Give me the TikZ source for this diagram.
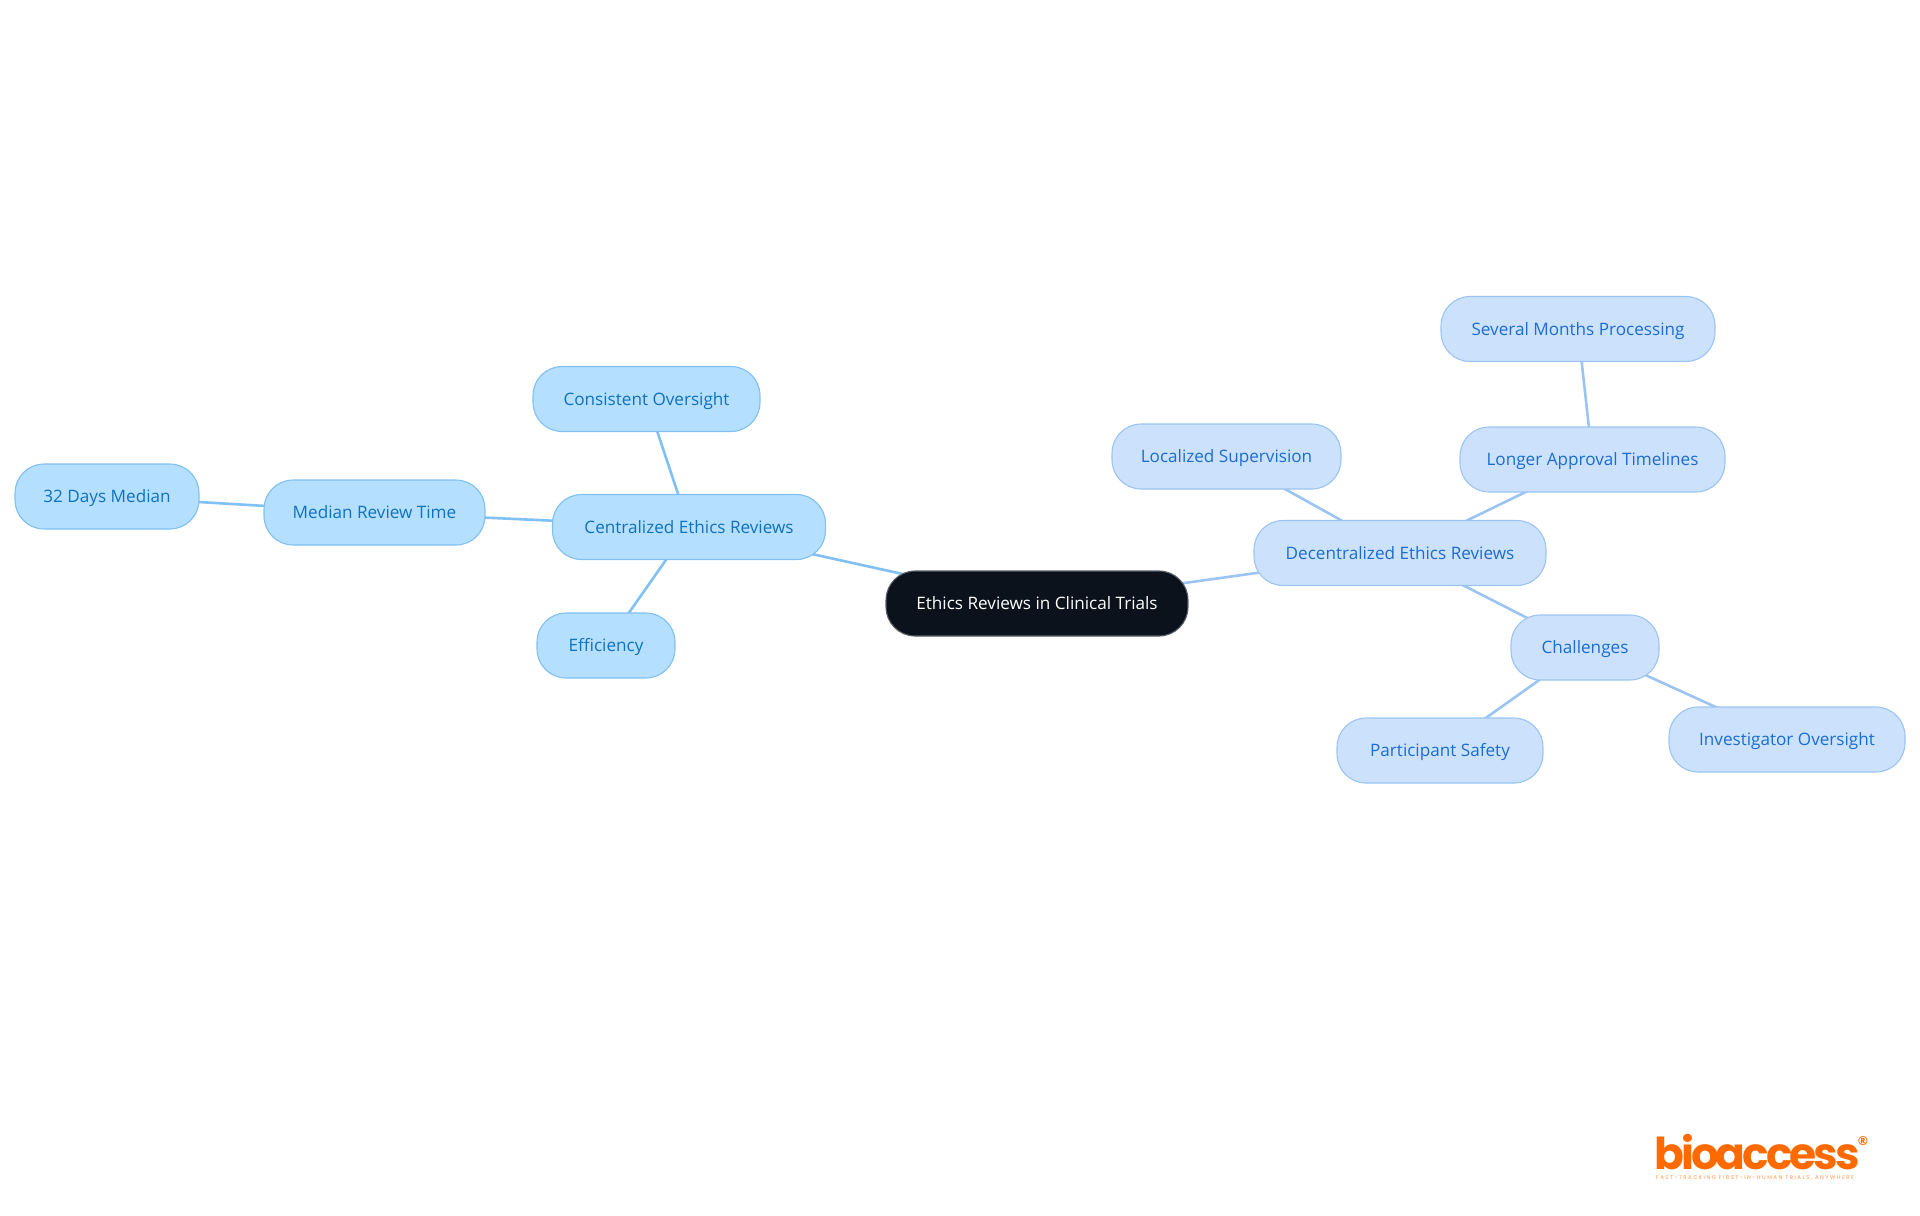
\documentclass[tikz,border=0pt]{standalone}
\usepackage{xcolor}
\usepackage{fontspec}
\setmainfont{Open Sans}
\newfontfamily\logofont[LetterSpace=-7]{Poppins}
\newfontfamily\tagfont[LetterSpace=27]{Poppins}
\usetikzlibrary{backgrounds}
\definecolor{rootfill}{HTML}{0b121b}
\definecolor{rootline}{HTML}{5a5f66}
\definecolor{leftfill}{HTML}{b5dffe}
\definecolor{leftline}{HTML}{80c0f2}
\definecolor{lefttext}{HTML}{0f72bf}
\definecolor{rightfill}{HTML}{cce1fb}
\definecolor{rightline}{HTML}{9cc4f3}
\definecolor{righttext}{HTML}{1b6dd0}
\definecolor{logocolor}{HTML}{ff6a00}
\tikzset{
  mapnode/.style={rectangle, rounded corners=0.58cm, line width=0.022cm, minimum height=1.3cm, inner sep=0pt, text height=8pt, text depth=0.7pt, font=\fontsize{9.75pt}{11.8pt}\selectfont},
  rootnode/.style={mapnode, draw=rootline, fill=rootfill, text=white},
  leftnode/.style={mapnode, draw=leftline, fill=leftfill, text=lefttext},
  rightnode/.style={mapnode, draw=rightline, fill=rightfill, text=righttext},
  leftedge/.style={draw=leftline, line width=0.052cm},
  rightedge/.style={draw=rightline, line width=0.052cm},
}

\begin{document}
\begin{tikzpicture}[x=0.02cm, y=-0.02cm]
\useasboundingbox (0,0) rectangle (1920,1215);
% root
\node[rootnode, minimum width=6.04cm] (root) at (1037,603.5) {Ethics Reviews in Clinical Trials};
% left side
\node[leftnode, minimum width=5.46cm] (central) at (689,527) {Centralized Ethics Reviews};
\node[leftnode, minimum width=4.42cm] (median) at (374.5,512.5) {Median Review Time};
\node[leftnode, minimum width=3.68cm] (days) at (107,496.5) {32 Days Median};
\node[leftnode, minimum width=4.54cm] (consistent) at (646.5,399) {Consistent Oversight};
\node[leftnode, minimum width=2.76cm] (efficiency) at (606,645.5) {Efficiency};
% right side
\node[rightnode, minimum width=5.84cm] (decentral) at (1400,553) {Decentralized Ethics Reviews};
\node[rightnode, minimum width=4.58cm] (localized) at (1226.5,456.5) {Localized Supervision};
\node[rightnode, minimum width=5.30cm] (longer) at (1592.5,459.5) {Longer Approval Timelines};
\node[rightnode, minimum width=5.48cm] (several) at (1578,329) {Several Months Processing};
\node[rightnode, minimum width=2.96cm] (challenges) at (1585,647.5) {Challenges};
\node[rightnode, minimum width=4.12cm] (safety) at (1440,750.5) {Participant Safety};
\node[rightnode, minimum width=4.72cm] (oversight) at (1787,739.5) {Investigator Oversight};
% connectors
\begin{scope}[on background layer]
\draw[leftedge] (root.center) -- (central.center);
\draw[leftedge] (central.center) -- (median.center);
\draw[leftedge] (median.center) -- (days.center);
\draw[leftedge] (central.center) -- (consistent.center);
\draw[leftedge] (central.center) -- (efficiency.center);
\draw[rightedge] (root.center) -- (decentral.center);
\draw[rightedge] (decentral.center) -- (localized.center);
\draw[rightedge] (decentral.center) -- (longer.center);
\draw[rightedge] (longer.center) -- (several.center);
\draw[rightedge] (decentral.center) -- (challenges.center);
\draw[rightedge] (challenges.center) -- (safety.center);
\draw[rightedge] (challenges.center) -- (oversight.center);
\end{scope}
% logo
\node[anchor=base west, text=logocolor, inner sep=0pt, font=\logofont\bfseries\fontsize{25pt}{28pt}\selectfont] (logo) at (1654,1169) {bioaccess};
\node[text=logocolor, inner sep=0pt, font=\bfseries\fontsize{7pt}{8pt}\selectfont] (mark) at (1863,1141) {®};
\node[text=logocolor!70, inner sep=0pt, font=\tagfont\fontsize{3.1pt}{4pt}\selectfont] (tagline) at (1755,1178) {FAST-TRACKING FIRST-IN-HUMAN TRIALS, ANYWHERE};
\end{tikzpicture}
\end{document}
